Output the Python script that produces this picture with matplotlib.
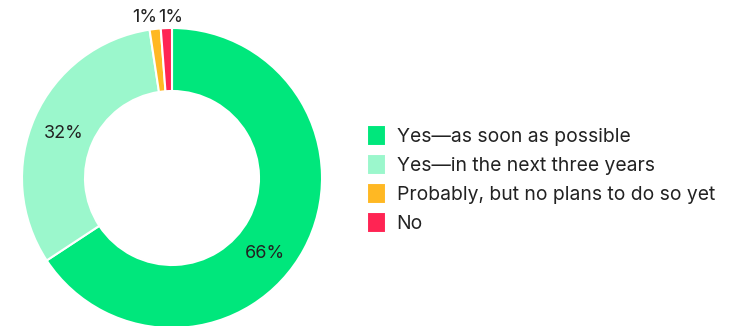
import numpy as np
import matplotlib
matplotlib.use("Agg")
import matplotlib.pyplot as plt

# ── Data ──────────────────────────────────────────────────────────────────────
labels = ["Yes\u2014as soon as possible",
          "Yes\u2014in the next three years",
          "Probably, but no plans to do so yet",
          "No"]
values = [66, 32, 1.2, 1.2]
pct_text = ["66%", "32%", "1%", "1%"]
colors = ["#00e77c", "#9bf7cc", "#ffb823", "#ff2453"]

plt.rcParams["font.family"] = ["Inter", "DejaVu Sans"]

fig = plt.figure(figsize=(7.31, 3.26), dpi=100)
W, H = 731, 326
ax = fig.add_axes([22 / W, -2 / H, 300 / W, 300 / H])

wedges, _ = ax.pie(values, colors=colors, startangle=90, counterclock=False,
                   radius=1.0,
                   wedgeprops=dict(width=0.42, edgecolor="white", linewidth=1.5))
ax.set_xlim(-1, 1); ax.set_ylim(-1, 1)
ax.set_aspect("equal"); ax.axis("off")

# label positions (axes data units)
lab_pos = [(0.62, -0.50), (-0.72, 0.30), (-0.18, 1.07), (-0.01, 1.07)]
for (x, y), t in zip(lab_pos, pct_text):
    ax.text(x, y, t, ha="center", va="center", fontsize=13, color="#222222",
            clip_on=False)

fig.legend(wedges, labels, loc="center left", bbox_to_anchor=(359 / W, 1 - 179 / H),
           frameon=False, fontsize=13.9, handlelength=1.0, handleheight=1.3,
           handletextpad=0.55, labelspacing=0.42, labelcolor="#222222",
           borderaxespad=0)

fig.savefig("out.png", dpi=100)
